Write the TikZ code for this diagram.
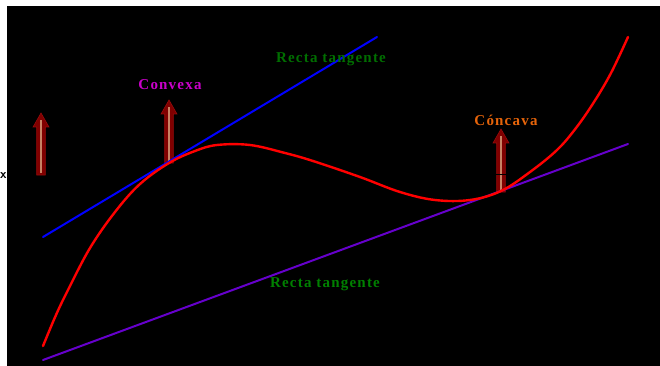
\documentclass[tikz,border=0pt]{standalone}
\usepackage{fontspec}
\setmainfont{Liberation Serif}
\begin{document}
\begin{tikzpicture}[x=1pt,y=-1pt,
  lbl/.style={font=\bfseries\fontsize{15}{17}\selectfont\addfontfeatures{LetterSpace=8}, inner sep=0pt},
  curve/.style={line width=2.4pt, line cap=round, line join=round},
  uparrow/.style={fill={rgb,255:red,128;green,0;blue,0}, draw={rgb,255:red,150;green,10;blue,10}, line width=0.6pt},
  stripe/.style={draw={rgb,255:red,200;green,130;blue,100}, line width=2pt}]
\useasboundingbox (0,0) rectangle (660,366);
\fill[black] (7,6) rectangle (660,366);
\node[font=\fontsize{13}{15}\selectfont\sffamily\bfseries, inner sep=0pt] (xl) at (3.4,176) {x};

% arrows
\foreach \cx/\yb/\yt/\nm in {41/175/113/a1, 169/163/100/a2, 501/192/129/a3}{
  \fill[uparrow] (\cx-4.3,\yb) -- (\cx-4.3,\yt+14) -- (\cx-8,\yt+14) -- (\cx,\yt) -- (\cx+8,\yt+14) -- (\cx+4.3,\yt+14) -- (\cx+4.3,\yb) -- cycle;
  \coordinate (\nm b) at (\cx,\yb-2);
  \coordinate (\nm t) at (\cx,\yt+7);
  \draw[stripe] (\nm b) -- (\nm t);
}
\draw[black, line width=0.8pt] (496,174) -- (507,174);

% tangent lines
\coordinate (b1) at (43,237);
\coordinate (b2) at (377,37);
\draw[curve, line width=2pt, draw={rgb,255:red,0;green,0;blue,255}] (b1) -- (b2);
\coordinate (p1) at (43,360);
\coordinate (p2) at (628,144);
\draw[curve, line width=2pt, draw={rgb,255:red,102;green,0;blue,204}] (p1) -- (p2);

% red curve
\draw[curve, draw={rgb,255:red,255;green,0;blue,0}] plot[smooth, tension=0.6] coordinates {
 (43,346) (56,315) (68,290) (90,248) (115,212) (140,184) (169,163) (195,151) (217,145) (250,145)
 (285,153) (313,161) (360,177) (400,192) (435,200) (470,200) (501,191) (530,172) (557,150)
 (576,128) (594,102) (611,73) (628,37)};

% labels
\node[lbl, text={rgb,255:red,204;green,0;blue,204}] (cvx) at (170,85) {Convexa};
\node[lbl, text={rgb,255:red,0;green,110;blue,0}] (rt1) at (331,59) {Recta tangente};
\node[lbl, text={rgb,255:red,230;green,100;blue,10}] (ccv) at (506,120) {Cóncava};
\node[lbl, text={rgb,255:red,0;green,128;blue,0}] (rt2) at (325,284) {Recta tangente};
\end{tikzpicture}
\end{document}
